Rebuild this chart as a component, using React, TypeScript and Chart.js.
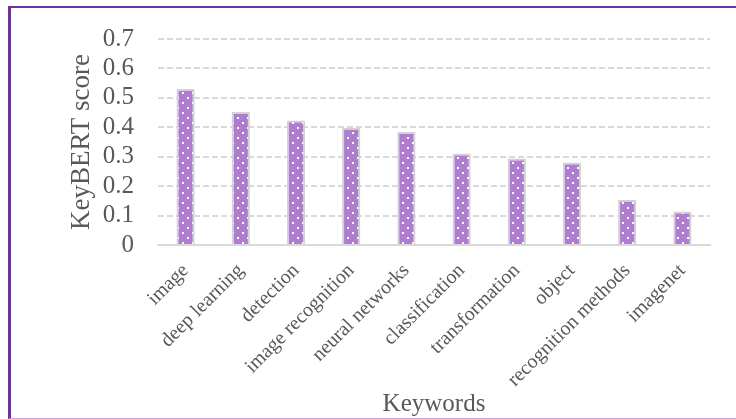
import React, { useEffect, useRef } from "react";
import { Chart, registerables } from "chart.js";

Chart.register(...registerables);

const categories = [
  "image",
  "deep learning",
  "detection",
  "image recognition",
  "neural networks",
  "classification",
  "transformation",
  "object",
  "recognition methods",
  "imagenet",
];
const scores = [0.53, 0.452, 0.423, 0.398, 0.384, 0.311, 0.294, 0.28, 0.154, 0.114];
const yMin = 0;
const yMax = 0.7;
const yStep = 0.1;
const xTitle = "Keywords";
const yTitle = "KeyBERT score";

const FONT = '"Liberation Serif", "Times New Roman", serif';
const TEXT = "#595959";

function makePattern(): CanvasPattern | string {
  const c = document.createElement("canvas");
  c.width = 10;
  c.height = 10;
  const g = c.getContext("2d");
  if (!g) return "#AE7DD0";
  g.fillStyle = "#AE7DD0";
  g.fillRect(0, 0, 10, 10);
  g.fillStyle = "#FFFFFF";
  g.fillRect(2, 2, 2, 2);
  g.fillRect(7, 7, 2, 2);
  const p = g.createPattern(c, "repeat");
  return p || "#AE7DD0";
}

export default function App() {
  const ref = useRef<HTMLCanvasElement | null>(null);
  useEffect(() => {
    if (!ref.current) return;
    const pattern = makePattern();
    const chart = new Chart(ref.current, {
      type: "bar",
      data: {
        labels: categories,
        datasets: [
          {
            data: scores,
            backgroundColor: pattern as any,
            borderColor: "#D3D3D3",
            borderWidth: 2,
            categoryPercentage: 1,
            barPercentage: 0.33,
          },
        ],
      },
      options: {
        animation: false,
        responsive: false,
        devicePixelRatio: 1,
        layout: { padding: { left: 0, right: 26, top: 37, bottom: 0 } },
        plugins: { legend: { display: false }, tooltip: { enabled: false } },
        scales: {
          x: {
            grid: { display: false },
            border: { display: true, color: "#D9D9D9", width: 2 },
            ticks: {
              color: TEXT,
              font: { family: FONT, size: 20 },
              maxRotation: 45,
              minRotation: 45,
              autoSkip: false,
              padding: 6,
            },
            title: {
              display: true,
              text: xTitle,
              color: TEXT,
              font: { family: FONT, size: 25 },
              padding: { top: 0, bottom: 0 },
            },
            afterFit: (s: any) => {
              s.height = 174;
            },
          },
          y: {
            min: yMin,
            max: yMax,
            grid: {
              color: (ctx: any) => (ctx.tick && ctx.tick.value === 0 ? "rgba(0,0,0,0)" : "#D9D9D9"),
              lineWidth: 2,
              drawTicks: false,
            },
            border: { display: false, dash: [6, 3] },
            ticks: {
              stepSize: yStep,
              autoSkip: false,
              color: TEXT,
              font: { family: FONT, size: 25 },
              padding: 24,
              callback: (v: any) => String(Math.round(Number(v) * 10) / 10),
            },
            title: {
              display: true,
              text: yTitle,
              color: TEXT,
              font: { family: FONT, size: 27 },
              padding: { top: 66, bottom: 0 },
            },
            afterFit: (s: any) => {
              s.width = 158;
            },
          },
        },
      },
    });
    return () => chart.destroy();
  }, []);

  return (
    <div style={{ position: "absolute", left: 0, top: 0, width: 736, height: 419, overflow: "hidden", background: "#fff" }}>
      <canvas ref={ref} width={736} height={419} style={{ position: "absolute", left: 0, top: 0, width: 736, height: 419 }} />
      <div
        style={{
          position: "absolute",
          left: 8,
          top: 6,
          width: 740,
          height: 410,
          borderTop: "2px solid #7030A0",
          borderLeft: "3px solid #7030A0",
          borderBottom: "1px solid #C9A6E2",
          pointerEvents: "none",
        }}
      />
    </div>
  );
}
